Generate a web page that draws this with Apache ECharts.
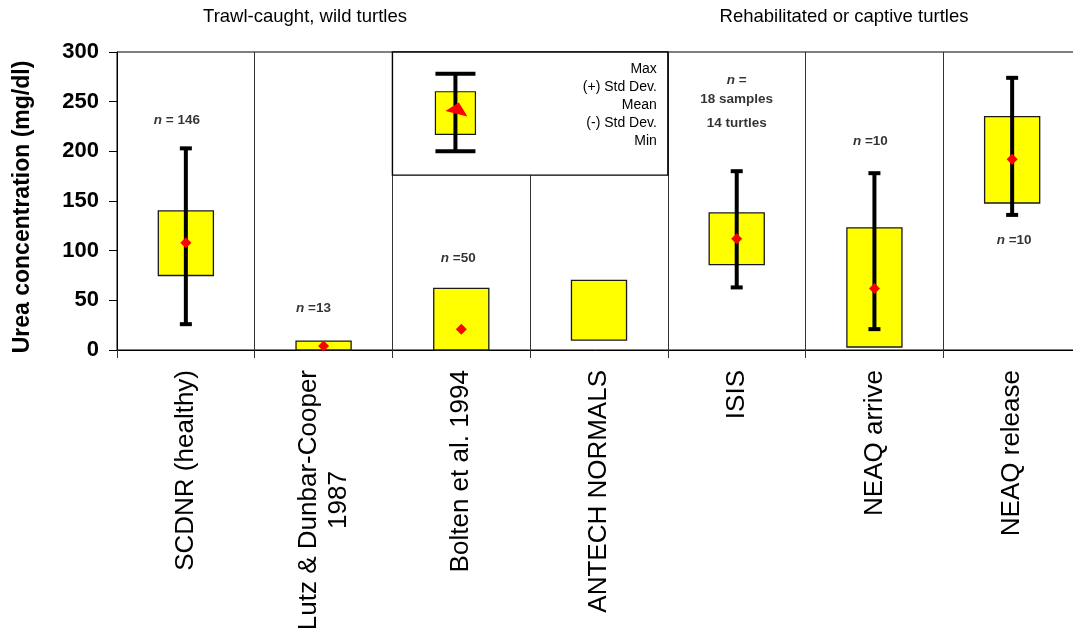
<!DOCTYPE html>
<html>
<head>
<meta charset="utf-8">
<title>Urea concentration</title>
<script src="https://cdn.jsdelivr.net/npm/echarts@6/dist/echarts.min.js"></script>
<style>
  html, body { margin: 0; padding: 0; background: #fff; }
  #chart { width: 1073px; height: 638px; }
</style>
</head>
<body>
<div id="chart"></div>
<script>
// categories on the x axis
const categories = [
  'SCDNR (healthy)',
  'Lutz & Dunbar-Cooper\n1987',
  'Bolten et al. 1994',
  'ANTECH NORMALS',
  'ISIS',
  'NEAQ arrive',
  'NEAQ release'
];
// yellow boxes: lower / upper edge (mg/dl)
const boxLow = [75, 0, 0, 10, 86, 3, 148];
const boxHigh = [140, 9, 62, 70, 138, 123, 235];
// whiskers, null where not reported
const whiskerMin = [26, null, null, null, 63, 21, 136];
const whiskerMax = [203, null, null, null, 180, 178, 274];
// means (red diamonds)
const means = [108, 4, 21, null, 112, 62, 192];

// sample size notes and the value they sit at
const nLabels = [
  '{i|n}{b| = 146}',
  '{i|n}{b| =13}',
  '{i|n}{b| =50}',
  null,
  '{i|n}{b| =}\n{b|18 samples}\n{t|14 turtles}',
  '{i|n}{b| =10}',
  '{i|n}{b| =10}'
];
const nLabelAt = [231, 42, 92, null, 247, 210, 110];
const nLabelShift = [-9, -10, -3, 0, 0, -4, 2];

// legend inset: min, (-) sd, mean, (+) sd, max
const legendSample = [200, 217, 240, 260, 278];
const legendText = ['Max', '(+) Std Dev.', 'Mean', '(-) Std Dev.', 'Min'];
const legendRange = [176, 300];

const FONT = '"Liberation Sans", Arial, sans-serif';

function diamond(x, y, r) {
  return [[x, y - r], [x + r, y], [x, y + r], [x - r, y]];
}

function renderBox(params, api) {
  const i = params.dataIndex;
  const band = api.size([1, 0])[0];
  const w = band * 0.4;
  const lo = api.coord([i, boxLow[i]]);
  const hi = api.coord([i, boxHigh[i]]);
  const x = lo[0];
  const children = [{
    type: 'rect',
    shape: { x: x - w / 2, y: hi[1], width: w, height: lo[1] - hi[1] },
    style: { fill: '#ffff00', stroke: '#1a1a1a', lineWidth: 1.3 }
  }];
  if (whiskerMin[i] != null) {
    const a = api.coord([i, whiskerMax[i]])[1];
    const b = api.coord([i, whiskerMin[i]])[1];
    children.push({ type: 'line', shape: { x1: x, y1: a, x2: x, y2: b }, style: { stroke: '#000', lineWidth: 4 } });
    children.push({ type: 'line', shape: { x1: x - 6, y1: a, x2: x + 6, y2: a }, style: { stroke: '#000', lineWidth: 4 } });
    children.push({ type: 'line', shape: { x1: x - 6, y1: b, x2: x + 6, y2: b }, style: { stroke: '#000', lineWidth: 4 } });
  }
  if (means[i] != null) {
    const m = api.coord([i, means[i]]);
    children.push({ type: 'polygon', shape: { points: diamond(m[0], m[1], 5.5) }, style: { fill: '#ff0000' } });
  }
  return { type: 'group', children: children };
}

function renderLegend(params, api) {
  const band = api.size([1, 0])[0];
  const first = api.value(0), last = api.value(1);
  const left = api.coord([first, legendRange[1]])[0] - band / 2;
  const right = api.coord([last, legendRange[1]])[0] + band / 2;
  const top = api.coord([first, legendRange[1]])[1];
  const bottom = api.coord([first, legendRange[0]])[1];
  const gx = left + 63;
  const y = legendSample.map(function (v) { return api.coord([first, v])[1]; });
  return {
    type: 'group',
    children: [
      { type: 'rect', shape: { x: left, y: top, width: right - left, height: bottom - top },
        style: { fill: '#fff', stroke: '#000', lineWidth: 1.4 } },
      { type: 'rect', shape: { x: gx - 20, y: y[3], width: 40, height: y[1] - y[3] },
        style: { fill: '#ffff00', stroke: '#1a1a1a', lineWidth: 1.2 } },
      { type: 'line', shape: { x1: gx, y1: y[4], x2: gx, y2: y[0] }, style: { stroke: '#000', lineWidth: 4 } },
      { type: 'line', shape: { x1: gx - 20, y1: y[4], x2: gx + 20, y2: y[4] }, style: { stroke: '#000', lineWidth: 4 } },
      { type: 'line', shape: { x1: gx - 20, y1: y[0], x2: gx + 20, y2: y[0] }, style: { stroke: '#000', lineWidth: 4 } },
      { type: 'polygon', shape: { points: [[gx - 10, y[2] - 0.5], [gx + 3.5, y[2] - 9], [gx + 12, y[2] + 5]] },
        style: { fill: '#ff0000' } },
      { type: 'text', x: right - 11, y: top + 8,
        style: { text: legendText.join('\n'), align: 'right', verticalAlign: 'top',
                 font: '14px ' + FONT, lineHeight: 18, fill: '#000' } }
    ]
  };
}

const labelData = [];
nLabels.forEach(function (t, i) {
  if (t) {
    labelData.push({ value: [i, nLabelAt[i]], label: { formatter: t, offset: [nLabelShift[i], 0] } });
  }
});

const chart = echarts.init(document.getElementById('chart'));
chart.setOption({
  animation: false,
  grid: {
    left: 117, top: 52, width: 964, bottom: 288,
    outerBoundsMode: 'none',
    show: true, borderColor: '#000', borderWidth: 1, backgroundColor: 'transparent'
  },
  graphic: [
    { type: 'text', x: 305, y: 17, style: { text: 'Trawl-caught, wild turtles', align: 'center', verticalAlign: 'middle', font: '18.5px ' + FONT, fill: '#000' } },
    { type: 'text', x: 844, y: 17, style: { text: 'Rehabilitated or captive turtles', align: 'center', verticalAlign: 'middle', font: '18.5px ' + FONT, fill: '#000' } }
  ],
  xAxis: {
    type: 'category',
    data: categories,
    axisLine: { lineStyle: { color: '#000', width: 1 } },
    axisTick: { show: true, length: 8, lineStyle: { color: '#333' } },
    splitLine: { show: true, lineStyle: { color: '#333', width: 1 } },
    axisLabel: {
      rotate: 90,
      margin: 20,
      interval: 0,
      color: '#000',
      fontFamily: FONT,
      fontSize: 26,
      formatter: function (v) {
        if (v.indexOf('\n') < 0) return v;
        const parts = v.split('\n');
        return '{a|' + parts[0] + '}\n{c|' + parts[1] + '}';
      },
      rich: {
        a: { fontFamily: FONT, fontSize: 26, lineHeight: 30, color: '#000' },
        c: { fontFamily: FONT, fontSize: 26, lineHeight: 30, color: '#000', align: 'center' }
      }
    }
  },
  yAxis: {
    type: 'value',
    min: 0,
    max: 300,
    interval: 50,
    name: 'Urea concentration (mg/dl)',
    nameLocation: 'middle',
    nameGap: 83,
    nameTextStyle: { fontFamily: FONT, fontSize: 23, fontWeight: 'bold', color: '#000', padding: [0, 12, 0, 0] },
    axisLine: { show: true, lineStyle: { color: '#000', width: 1 } },
    axisTick: { show: true, length: 8, lineStyle: { color: '#000' } },
    splitLine: { show: false },
    axisLabel: { margin: 18, fontFamily: FONT, fontSize: 22, fontWeight: 'bold', color: '#000' }
  },
  series: [
    {
      type: 'custom',
      name: 'boxes',
      renderItem: renderBox,
      encode: { x: 0, y: [1, 2] },
      data: categories.map(function (c, i) { return [i, boxLow[i], boxHigh[i]]; }),
      silent: true
    },
    {
      type: 'custom',
      name: 'legend',
      renderItem: renderLegend,
      encode: { x: [0, 1] },
      data: [[2, 3]],
      silent: true,
      z: 3
    },
    {
      type: 'scatter',
      name: 'n',
      symbolSize: 1,
      itemStyle: { color: 'rgba(0,0,0,0)' },
      silent: true,
      data: labelData,
      label: {
        show: true,
        position: 'inside',
        color: '#000',
        rich: {
          i: { fontFamily: FONT, fontSize: 13.5, fontWeight: 'bold', fontStyle: 'italic', lineHeight: 19, color: '#000' },
          b: { fontFamily: FONT, fontSize: 13.5, fontWeight: 'bold', lineHeight: 19, color: '#000' },
          t: { fontFamily: FONT, fontSize: 13.5, fontWeight: 'bold', lineHeight: 29, color: '#000' }
        }
      }
    }
  ]
});
</script>
</body>
</html>
